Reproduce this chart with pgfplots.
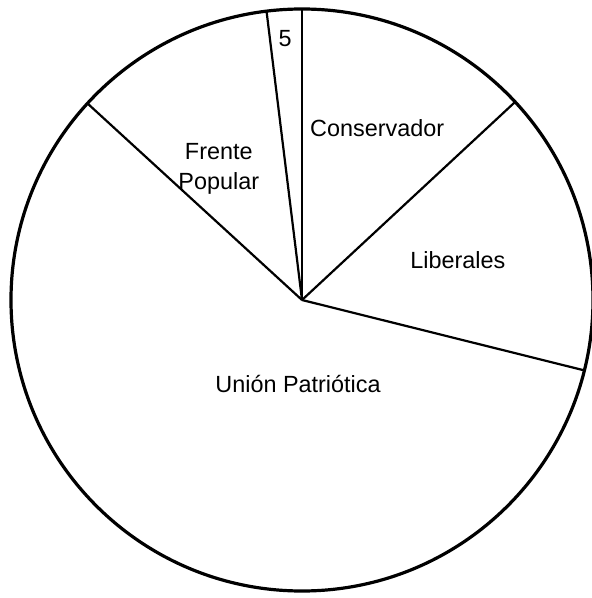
\documentclass[border=0pt]{standalone}
\usepackage{pgfplots}
\pgfplotsset{compat=1.18}
\usepgfplotslibrary{polar}
\usepackage{fontspec}
\setmainfont{Liberation Sans}
\begin{document}
\begin{tikzpicture}
\useasboundingbox (-151pt,-149pt) rectangle (144.5pt,150pt);
\begin{polaraxis}[
  at={(0,0)}, anchor=origin,
  scale only axis, width=291pt, height=291pt,
  xmin=0, xmax=360, ymin=0, ymax=1,
  xtick=\empty, ytick=\empty,
  separate axis lines,
  x axis line style={line width=1.6pt, black},
  y axis line style={draw=none},
  clip=false,
  font=\fontsize{11.7}{14}\selectfont,
]
% slice boundaries (angle in degrees, radius)
\addplot[black, line width=1.1pt, mark=none] coordinates {(0,0) (346.0,1)};
\addplot[black, line width=1.1pt, mark=none] coordinates {(0,0) (42.9,1)};
\addplot[black, line width=1.1pt, mark=none] coordinates {(0,0) (90.0,1)};
\addplot[black, line width=1.1pt, mark=none] coordinates {(0,0) (97.0,1)};
\addplot[black, line width=1.1pt, mark=none] coordinates {(0,0) (137.5,1)};
\node at (axis cs:93.7,0.902) {5};
\node[align=center, font=\fontsize{11.7}{15}\selectfont] at (axis cs:122.3,0.535) {Frente\\Popular};
\node at (axis cs:66.4,0.645) {Conservador};
\node at (axis cs:14.4,0.553) {Liberales};
\node at (axis cs:267.3,0.289) {Unión Patriótica};
\end{polaraxis}
\end{tikzpicture}
\end{document}
